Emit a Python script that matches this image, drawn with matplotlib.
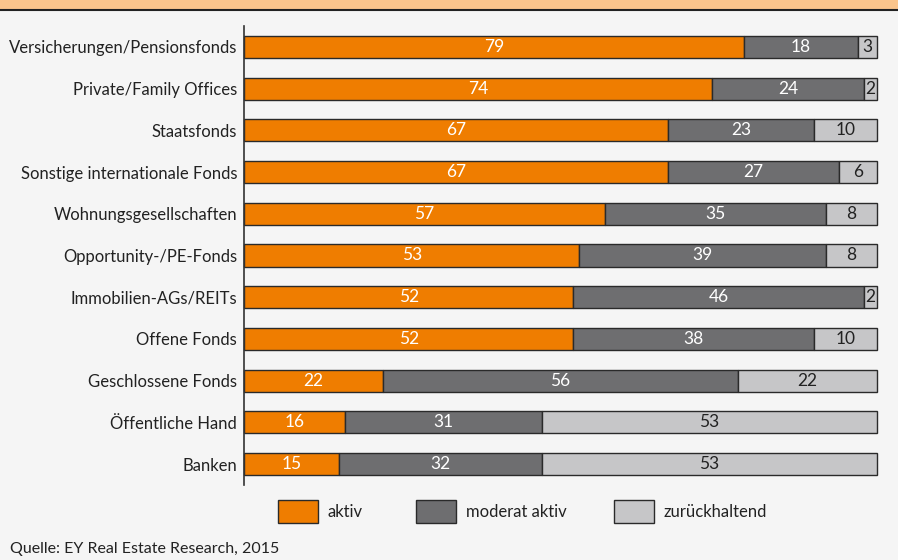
import matplotlib
matplotlib.use("Agg")
import matplotlib.pyplot as plt
from matplotlib.patches import Rectangle

categories = ["Versicherungen/Pensionsfonds", "Private/Family Offices", "Staatsfonds",
              "Sonstige internationale Fonds", "Wohnungsgesellschaften", "Opportunity-/PE-Fonds",
              "Immobilien-AGs/REITs", "Offene Fonds", "Geschlossene Fonds", "Öffentliche Hand", "Banken"]
aktiv = [79, 74, 67, 67, 57, 53, 52, 52, 22, 16, 15]
moderat = [18, 24, 23, 27, 35, 39, 46, 38, 56, 31, 32]
zurueck = [3, 2, 10, 6, 8, 8, 2, 10, 22, 53, 53]
series_names = ["aktiv", "moderat aktiv", "zurückhaltend"]

colors = ["#EF7D00", "#6E6E70", "#C6C6C8"]
text_colors = ["white", "white", "#222222"]
edge = "#2a2a2a"

plt.rcParams['font.family'] = ['Lato', 'DejaVu Sans']

W, H = 898, 560
fig = plt.figure(figsize=(W/100, H/100), dpi=100)
fig.patch.set_facecolor("#F5F5F5")

# top band
fig.patches.append(Rectangle((0, 1 - 9/H), 1, 9/H, transform=fig.transFigure,
                             facecolor="#FBC58C", edgecolor="none"))
fig.add_artist(plt.Line2D([0, 1], [1 - 10/H, 1 - 10/H], transform=fig.transFigure,
                          color="#222222", lw=1.5))

ax = fig.add_axes([244/W, 1 - 485/H, (877-244)/W, (485-26)/H])
ax.set_facecolor("#F5F5F5")
n = len(categories)
ypos = list(range(n))
left = [0]*n
for vals, c, tc in zip([aktiv, moderat, zurueck], colors, text_colors):
    bars = ax.barh(ypos, vals, left=left, height=0.53, color=c, edgecolor=edge, linewidth=1.0)
    for b in bars:
        b.set_clip_on(False)
    for y, v, l in zip(ypos, vals, left):
        ax.text(l + v/2, y, str(v), ha="center", va="center", color=tc, fontsize=12.5)
    left = [a + b for a, b in zip(left, vals)]

ax.set_xlim(0, 100)
ax.set_ylim(n - 0.5, -0.5)
ax.set_yticks(ypos)
ax.set_yticklabels(categories, fontsize=12, color="#222222")
ax.tick_params(axis="y", length=0, pad=5)
ax.set_xticks([])
for s in ["top", "right", "bottom"]:
    ax.spines[s].set_visible(False)
ax.spines["left"].set_color("#333333")
ax.spines["left"].set_linewidth(1.2)

# legend
lx = [278, 416, 614]
for x, name, c in zip(lx, series_names, colors):
    fig.patches.append(Rectangle((x/W, 1 - 523/H), 40/W, 23/H, transform=fig.transFigure,
                                 facecolor=c, edgecolor=edge, linewidth=1.0))
    fig.text((x + 50)/W, 1 - 512/H, name, ha="left", va="center", fontsize=12, color="#222222")

fig.text(10/W, 1 - 549/H, "Quelle: EY Real Estate Research, 2015", ha="left", va="center",
         fontsize=11.5, color="#222222")

fig.savefig("out.png", dpi=100, facecolor=fig.get_facecolor())
